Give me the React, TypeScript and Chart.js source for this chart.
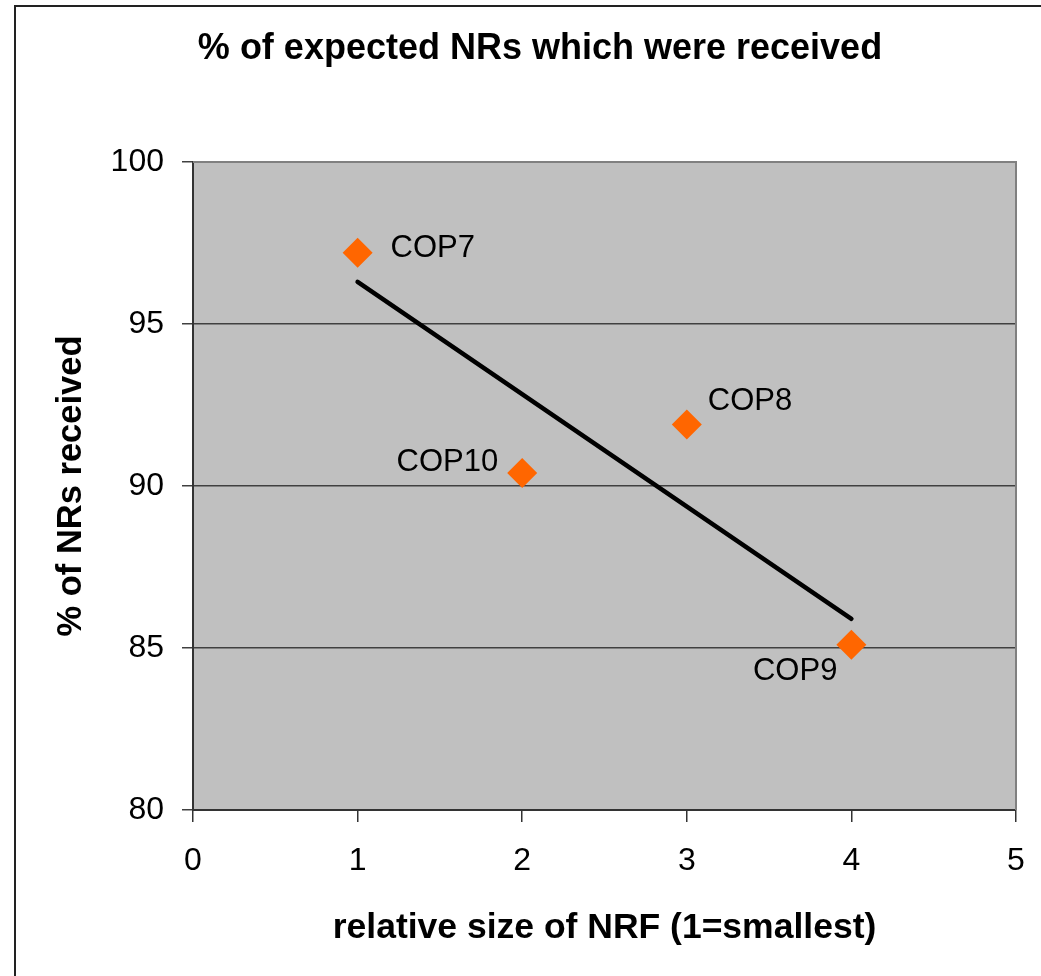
import React, { useEffect, useRef } from "react";
import { Chart, registerables } from "chart.js";

Chart.register(...registerables);

const TITLE = "% of expected NRs which were received";
const X_TITLE = "relative size of NRF (1=smallest)";
const Y_TITLE = "% of NRs received";

const pointLabels = ["COP7", "COP10", "COP8", "COP9"];
const pointX = [1, 2, 3, 4];
const pointY = [97.2, 90.4, 91.9, 85.1];

const trendX = [1, 4];
const trendY = [96.3, 85.9];

// label placement (layout only): dx, dy, align
const labelPlacement = [
  { dx: 33, dy: -4, align: "left" },
  { dx: -24, dy: -11, align: "right" },
  { dx: 21, dy: -23, align: "left" },
  { dx: -14, dy: 27, align: "right" },
];

const FONT = "'Liberation Sans', Arial, sans-serif";

const decorPlugin = {
  id: "decor",
  beforeDraw(chart: any) {
    const { ctx, chartArea: a } = chart;
    ctx.save();
    ctx.fillStyle = "#ffffff";
    ctx.fillRect(0, 0, chart.width, chart.height);
    ctx.fillStyle = "#C0C0C0";
    ctx.fillRect(a.left, a.top, a.right - a.left, a.bottom - a.top);
    // outer frame
    ctx.strokeStyle = "#222222";
    ctx.lineWidth = 2;
    ctx.beginPath();
    ctx.moveTo(15, chart.height);
    ctx.lineTo(15, 6);
    ctx.lineTo(chart.width, 6);
    ctx.stroke();
    // title
    ctx.fillStyle = "#000000";
    ctx.font = `bold 36px ${FONT}`;
    ctx.textAlign = "center";
    ctx.textBaseline = "middle";
    ctx.fillText(TITLE, 540, 49);
    ctx.restore();
  },
  beforeDatasetsDraw(chart: any) {
    const { ctx, chartArea: a } = chart;
    ctx.save();
    ctx.strokeStyle = "#808080";
    ctx.lineWidth = 2;
    ctx.beginPath();
    ctx.moveTo(a.left, a.top);
    ctx.lineTo(a.right, a.top);
    ctx.lineTo(a.right, a.bottom);
    ctx.stroke();
    ctx.restore();
  },
  afterDatasetsDraw(chart: any) {
    const { ctx } = chart;
    const xs = chart.scales.x;
    const ys = chart.scales.y;
    ctx.save();
    ctx.fillStyle = "#000000";
    ctx.font = `31px ${FONT}`;
    ctx.textBaseline = "middle";
    pointLabels.forEach((lab, i) => {
      const p = labelPlacement[i];
      const px = xs.getPixelForValue(pointX[i]);
      const py = ys.getPixelForValue(pointY[i]);
      ctx.textAlign = p.align;
      ctx.fillText(lab, px + p.dx, py + p.dy);
    });
    ctx.restore();
  },
};

export default function App() {
  const ref = useRef<HTMLCanvasElement | null>(null);

  useEffect(() => {
    if (!ref.current) return;
    const chart = new Chart(ref.current, {
      type: "scatter",
      data: {
        datasets: [
          {
            type: "line",
            label: "trend",
            data: trendX.map((x, i) => ({ x, y: trendY[i] })),
            borderColor: "#000000",
            borderWidth: 4.5,
            borderCapStyle: "round",
            pointRadius: 0,
            fill: false,
            order: 2,
          } as any,
          {
            label: "NRs",
            data: pointX.map((x, i) => ({ x, y: pointY[i] })),
            backgroundColor: "#FF6600",
            borderColor: "#FF6600",
            borderWidth: 0,
            pointStyle: "rectRot",
            pointRadius: 15,
            order: 1,
          },
        ],
      },
      options: {
        responsive: false,
        animation: false,
        events: [],
        layout: { padding: { left: 0, top: 162, right: 25, bottom: 0 } },
        plugins: {
          legend: { display: false },
          tooltip: { enabled: false },
          title: { display: false },
        },
        scales: {
          x: {
            type: "linear",
            min: 0,
            max: 5,
            afterFit(scale: any) {
              scale.height = 166;
              scale.paddingLeft = 0;
              scale.paddingRight = 0;
            },
            ticks: {
              stepSize: 1,
              padding: 20,
              color: "#000000",
              font: { family: FONT, size: 32 },
            },
            grid: {
              drawOnChartArea: false,
              drawTicks: true,
              tickLength: 12,
              color: "#333333",
              lineWidth: 1.5,
            },
            border: { display: true, color: "#333333", width: 2 },
            title: {
              display: true,
              text: X_TITLE,
              color: "#000000",
              font: { family: FONT, size: 35.5, weight: "bold" },
              padding: { top: 0, bottom: 26 },
            },
          },
          y: {
            type: "linear",
            min: 80,
            max: 100,
            afterFit(scale: any) {
              scale.width = 193;
              scale.paddingTop = 0;
              scale.paddingBottom = 0;
            },
            ticks: {
              stepSize: 5,
              padding: 18,
              color: "#000000",
              font: { family: FONT, size: 32 },
            },
            grid: {
              drawOnChartArea: true,
              drawTicks: true,
              tickLength: 11,
              color: "#404040",
              lineWidth: 1.5,
            },
            border: { display: true, color: "#333333", width: 2 },
            title: {
              display: true,
              text: Y_TITLE,
              color: "#000000",
              font: { family: FONT, size: 34.5, weight: "bold" },
              padding: { top: 51, bottom: 0 },
            },
          },
        },
      },
      plugins: [decorPlugin],
    } as any);
    return () => chart.destroy();
  }, []);

  return (
    <div style={{ position: "absolute", left: 0, top: 0, width: 1041, height: 976 }}>
      <canvas ref={ref} width={1041} height={976} style={{ display: "block" }} />
    </div>
  );
}
